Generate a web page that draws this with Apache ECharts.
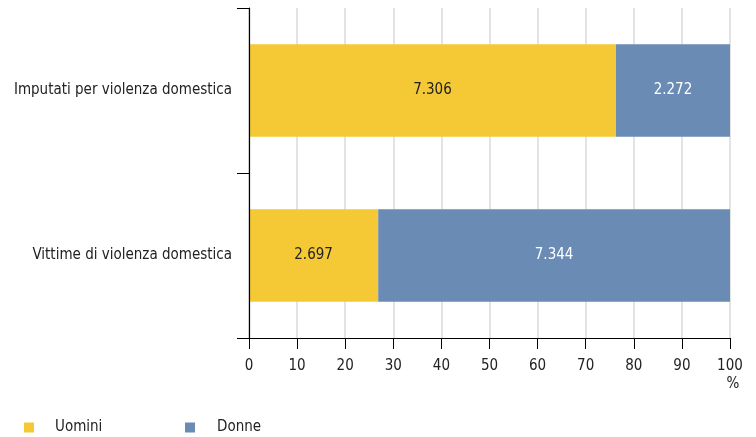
<!DOCTYPE html>
<html>
<head>
<meta charset="utf-8">
<style>
  html, body { margin: 0; padding: 0; background: #fff; }
  #chart { width: 756px; height: 437px; }
</style>
<script src="https://cdn.jsdelivr.net/npm/echarts@6/dist/echarts.min.js"></script>
</head>
<body>
<div id="chart"></div>
<script>
const categories = ['Imputati per violenza domestica', 'Vittime di violenza domestica'];
const uomini = [7306, 2697];
const donne = [2272, 7344];
const xTicks = [0, 10, 20, 30, 40, 50, 60, 70, 80, 90, 100];
const seriesNames = ['Uomini', 'Donne'];

const FONT = '"Liberation Sans Narrow", "DejaVu Sans Condensed", "Roboto", sans-serif';
const totals = categories.map((_, i) => uomini[i] + donne[i]);
const pct = (arr) => arr.map((v, i) => v / totals[i] * 100);
const fmt = (v) => String(v).replace(/\B(?=(\d{3})+(?!\d))/g, '.');
const xMin = xTicks[0], xMax = xTicks[xTicks.length - 1];

const chart = echarts.init(document.getElementById('chart'), null, { renderer: 'canvas' });
chart.setOption({
  animation: false,
  textStyle: { fontFamily: FONT },
  color: ['#F5C935', '#6A8BB4'],
  grid: { left: 249, right: 26, top: 8, bottom: 99, containLabel: false },
  legend: [
    {
      data: [seriesNames[0]], left: 24, top: 420, padding: 0, icon: 'rect', itemWidth: 10, itemHeight: 10,
      textStyle: { fontFamily: FONT, fontSize: 15, color: '#222', padding: [0, 0, 0, 16] }
    },
    {
      data: [seriesNames[1]], left: 185, top: 420, padding: 0, icon: 'rect', itemWidth: 10, itemHeight: 10,
      textStyle: { fontFamily: FONT, fontSize: 15, color: '#222', padding: [0, 0, 0, 17] }
    }
  ],
  xAxis: [
    {
      type: 'value', min: xMin, max: xMax, interval: 10, position: 'bottom',
      axisLine: { show: true, onZero: false, lineStyle: { color: '#000', width: 1.2 } },
      axisTick: { show: true, length: 11, lineStyle: { color: '#000' } },
      splitLine: { show: true, lineStyle: { color: '#dadada', width: 1.5 } },
      axisLabel: {
        margin: 19, color: '#222', fontSize: 15, fontFamily: FONT, lineHeight: 18,
        formatter: (v) => v === 100 ? '100\n{p|%}' : String(v),
        rich: { p: { fontSize: 15, fontFamily: FONT, color: '#222', lineHeight: 18, padding: [0, 0, 0, 6] } }
      }
    },
    {
      type: 'value', min: xMin, max: xMax, interval: 10, position: 'bottom', offset: 0, z: 5,
      axisLine: { show: true, onZero: false, lineStyle: { color: '#000', width: 1.2 } },
      axisTick: { show: false }, splitLine: { show: false }, axisLabel: { show: false }
    }
  ],
  yAxis: {
    type: 'category', data: categories, inverse: true, z: 5,
    axisLine: { show: true, lineStyle: { color: '#000', width: 1.2 } },
    axisTick: { show: true, length: 12, lineStyle: { color: '#000' } },
    axisLabel: { margin: 17, color: '#222', fontSize: 15, fontFamily: FONT }
  },
  series: [
    {
      name: seriesNames[0], type: 'bar', stack: 'tot', barCategoryGap: '44%', xAxisIndex: 0,
      data: pct(uomini),
      label: { show: true, position: 'inside', color: '#222', fontSize: 15, fontFamily: FONT,
        formatter: (p) => fmt(uomini[p.dataIndex]) }
    },
    {
      name: seriesNames[1], type: 'bar', stack: 'tot', barCategoryGap: '44%', xAxisIndex: 0,
      data: pct(donne),
      label: { show: true, position: 'inside', color: '#fff', fontSize: 15, fontFamily: FONT,
        formatter: (p) => fmt(donne[p.dataIndex]) }
    }
  ]
});
</script>
</body>
</html>
